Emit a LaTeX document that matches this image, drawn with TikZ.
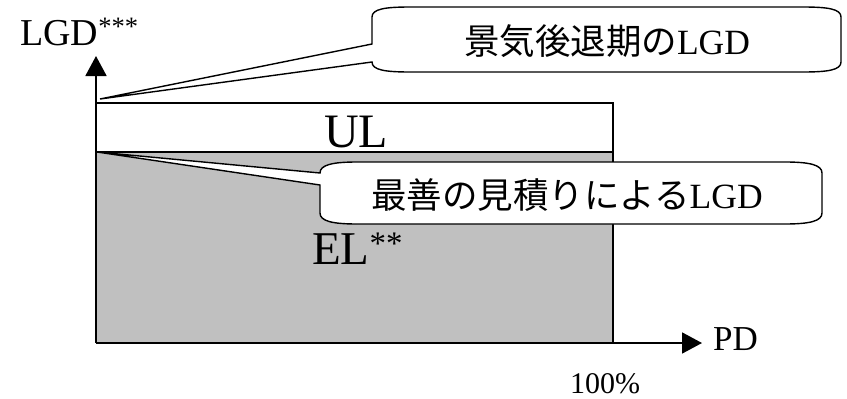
\documentclass[tikz,border=0pt]{standalone}
\usepackage{fontspec}
\setmainfont{Liberation Serif}
\newfontfamily\jpfont{Noto Sans CJK JP}
\usetikzlibrary{positioning,arrows.meta}
\definecolor{elgray}{RGB}{192,192,192}

\begin{document}
\begin{tikzpicture}[x=1pt,y=-1pt]
	\tikzstyle{axis}=[line width=1.8pt,-{Triangle[length=20pt,width=21pt]}]
	\tikzstyle{bar}=[line width=1.4pt]
	\tikzstyle{callout}=[line width=1.4pt,fill=white]
	\tikzstyle{note}=[inner sep=0pt,anchor=base,font=\fontsize{35.5}{40}\selectfont]
	\useasboundingbox (0,0) rectangle (847,399);
	% axes and loss areas
	\coordinate (o) at (96,343);
	\coordinate (ytip) at (96,56);
	\coordinate (xtip) at (702,343);
	\coordinate (dtop) at (100,99);
	\coordinate (dbest) at (97,152);
		\fill[elgray] (96,152) rectangle (613,343);
		\draw[bar] (96,103) -- (613,103) -- (613,343);
		\draw[line width=2.2pt] (96,152) -- (613,152);
		\draw[axis] (o) -- (ytip);
		\draw[axis] (o) -- (xtip);
	\node[inner sep=0pt,anchor=base west,font=\fontsize{38}{40}\selectfont] (lgd) at (20,45) {LGD\textsuperscript{***}};
	\node[inner sep=0pt,anchor=base west,font=\fontsize{35}{40}\selectfont] (pd) at (713,350) {PD};
	\node[inner sep=0pt,anchor=base west,font=\fontsize{30}{34}\selectfont] (full) at (570,393) {100\%};
	\node[inner sep=0pt,anchor=base,font=\fontsize{48}{50}\selectfont] (ul) at (356,147) {UL};
	\node[inner sep=0pt,anchor=base west,font=\fontsize{47}{50}\selectfont] (el) at (312,264) {EL\textsuperscript{**}};
	% callouts
		\draw[callout] (372,44) -- (372,17) .. controls (372,9) and (385,7) .. (410,7)
			-- (803,7) .. controls (828,7) and (841,9) .. (841,17)
			-- (841,62) .. controls (841,70) and (828,72) .. (803,72)
			-- (410,72) .. controls (385,72) and (372,70) .. (372,62)
			-- (dtop) -- cycle;
		\draw[callout] (320,185) -- (320,213) .. controls (320,221) and (332,224) .. (357,224)
			-- (785,224) .. controls (810,224) and (822,221) .. (822,213)
			-- (822,173) .. controls (822,165) and (810,162) .. (785,162)
			-- (357,162) .. controls (332,162) and (320,165) .. (320,173)
			-- (dbest) -- cycle;
	\node[note] (worst) at (607,54) {{\jpfont 景気後退期の}LGD};
	\node[note] (best) at (567,208) {{\jpfont 最善の見積りによる}LGD};
\end{tikzpicture}
\end{document}
